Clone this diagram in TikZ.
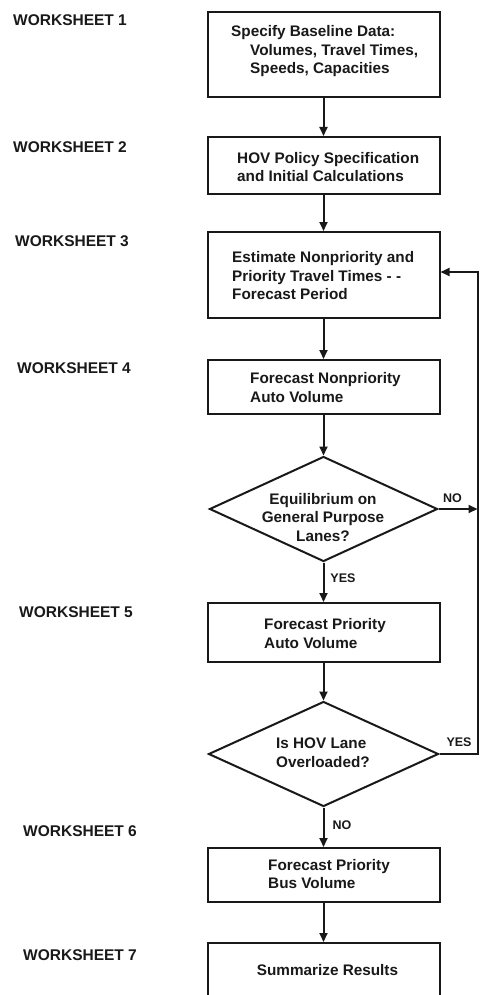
\documentclass[tikz,border=0pt]{standalone}
\usepackage{fontspec}
\setmainfont{Liberation Sans}
\usetikzlibrary{shapes.geometric,arrows.meta}
\tikzset{
  boxnode/.style={draw=black!90, line width=2pt, minimum width=232pt, inner sep=0pt},
  dianode/.style={diamond, draw=black!90, line width=2pt, inner sep=0pt, minimum width=228pt, minimum height=105pt},
  txt/.style={font=\bfseries\fontsize{15.3}{18.5}\selectfont, inner sep=0pt, align=left, anchor=west, text=black!90},
  wslabel/.style={font=\bfseries\fontsize{15.5}{18}\selectfont, inner sep=0pt, anchor=west, text=black!90},
  yn/.style={font=\bfseries\fontsize{12.5}{14}\selectfont, inner sep=0pt, text=black!90},
  arr/.style={draw=black!90, line width=2pt, line join=miter, -{Triangle[length=9pt,width=8pt]}}
}
\begin{document}
\begin{tikzpicture}[x=1pt,y=-1pt]
\useasboundingbox (0,0) rectangle (479,995);
\fill[white] (0,0) rectangle (479,995);
% boxes
\node[boxnode, minimum height=85pt] (b1) at (323.5,54.5) {};
\node[boxnode, minimum height=57pt] (b2) at (323.5,165.5) {};
\node[boxnode, minimum height=86pt] (b3) at (323.5,275) {};
\node[boxnode, minimum height=54pt] (b4) at (323.5,387) {};
\node[dianode] (d1) at (323.5,509) {};
\node[boxnode, minimum height=59pt] (b5) at (323.5,632.5) {};
\node[dianode, minimum width=230pt] (d2) at (323.5,754) {};
\node[boxnode, minimum height=54pt] (b6) at (323.5,875) {};
\node[boxnode, minimum height=68pt] (b7) at (323.5,977) {};
% texts
\node[txt] (t1) at (231,51.5) {Specify Baseline Data:\\\hspace*{19pt}Volumes, Travel Times,\\\hspace*{19pt}Speeds, Capacities};
\node[txt] (t2) at (237,167) {HOV Policy Specification\\and Initial Calculations};
\node[txt] (t3) at (232,276) {Estimate Nonpriority and\\Priority Travel Times - -\\Forecast Period};
\node[txt] (t4) at (250,387.5) {Forecast Nonpriority\\Auto Volume};
\node[txt, anchor=center, align=center] (t5) at (323,517.5) {Equilibrium on\\General Purpose\\Lanes?};
\node[txt] (t6) at (264,633.5) {Forecast Priority\\Auto Volume};
\node[txt] (t7) at (276,752.5) {Is HOV Lane\\Overloaded?};
\node[txt] (t8) at (268,874) {Forecast Priority\\Bus Volume};
\node[txt, anchor=center] (t9) at (327.5,970) {Summarize Results};
% worksheet labels
\node[wslabel] (w1) at (13,20) {WORKSHEET 1};
\node[wslabel] (w2) at (13,147) {WORKSHEET 2};
\node[wslabel] (w3) at (15,241) {WORKSHEET 3};
\node[wslabel] (w4) at (17,368) {WORKSHEET 4};
\node[wslabel] (w5) at (19,612) {WORKSHEET 5};
\node[wslabel] (w6) at (23,831) {WORKSHEET 6};
\node[wslabel] (w7) at (23,955) {WORKSHEET 7};
% branch labels
\node[yn] (y1) at (343,578) {YES};
\node[yn] (n1) at (452.5,498) {NO};
\node[yn] (n2) at (342,825) {NO};
\node[yn] (y2) at (459,742) {YES};
% connectors
\draw[arr] (b1.south) -- (b2.north);
\draw[arr] (b2.south) -- (b3.north);
\draw[arr] (b3.south) -- (b4.north);
\draw[arr] (b4.south) -- (d1.north);
\draw[arr] (d1.south) -- (b5.north);
\draw[arr] (b5.south) -- (d2.north);
\draw[arr] (d2.south) -- (b6.north);
\draw[arr] (b6.south) -- (b7.north);
\coordinate (lt) at (477.5,272);
\coordinate (lb) at (d2.east -| lt);
\draw[arr] (d2.east) -- (lb) -- (lt) -- (b3.east |- lt);
\draw[arr] (d1.east) -- (d1.east -| lt);
\end{tikzpicture}
\end{document}
